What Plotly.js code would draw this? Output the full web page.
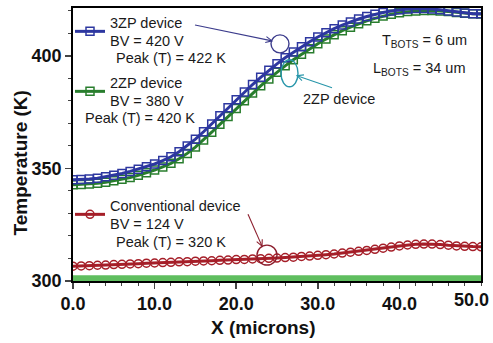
<!DOCTYPE html>
<html>
<head>
<meta charset="utf-8">
<script src="https://cdn.plot.ly/plotly-3.0.1.min.js"></script>
<style>html,body{margin:0;padding:0;background:#fff}#chart{width:493px;height:343px}</style>
</head>
<body>
<div id="chart"></div>
<script>
// Position along device (microns)
const xMicrons = [0,1,2,3,4,5,6,7,8,9,10,11,12,13,14,15,16,17,18,19,20,21,22,23,24,25,26,27,28,29,30,31,32,33,34,35,36,37,38,39,40,41,42,43,44,45,46,47,48,49,50];
// Temperature (K) of each device
const temp3ZP = [345.0,345.1,345.3,345.7,346.3,347.0,347.8,348.7,349.7,350.8,352.0,353.5,355.2,357.4,360.0,363.0,366.3,369.8,373.4,377.0,380.5,384.0,387.3,390.5,393.6,396.5,399.2,401.7,404.1,406.3,408.4,410.3,412.1,413.7,415.1,416.4,417.5,418.5,419.3,420.0,420.5,420.9,421.1,421.1,420.9,420.5,420.0,419.5,419.1,418.8,418.7];
const temp2ZP = [342.8,342.9,343.1,343.4,343.9,344.5,345.2,346.0,347.0,348.1,349.3,350.7,352.3,354.3,356.7,359.5,362.7,366.1,369.6,373.1,376.6,380.1,383.5,386.7,389.8,392.8,395.6,398.3,400.8,403.2,405.4,407.5,409.4,411.2,412.8,414.3,415.6,416.7,417.7,418.5,419.2,419.7,420.0,420.2,420.2,420.0,419.7,419.3,419.0,418.8,418.6];
const tempConv = [306.6,306.7,306.8,307.0,307.1,307.3,307.4,307.6,307.7,307.9,308.0,308.2,308.3,308.5,308.6,308.8,308.9,309.0,309.2,309.3,309.5,309.6,309.8,309.9,310.1,310.2,310.4,310.6,310.9,311.1,311.4,311.7,312.0,312.4,312.8,313.2,313.6,314.1,314.6,315.1,315.6,316.0,316.3,316.4,316.4,316.2,315.9,315.6,315.4,315.3,315.2];
const tempBase = xMicrons.map(() => 301.2);

const xTickVals = [0,10,20,30,40];
const xTickText = ['0.0','10.0','20.0','30.0','40.0'];
const lastXTickText = '50.0';
const yTickVals = [300,350,400];
const yTickText = ['300','350','400'];

const blue = 'rgb(45,55,160)';
const green = 'rgb(40,125,45)';
const red = 'rgb(165,30,40)';
const F = 'Arial, "Liberation Sans", sans-serif';
const FS = 14.5;

// plot-area geometry (pixels) for decorations
const M = {l: 73, r: 12, t: 7, b: 62};
const PW = 493 - M.l - M.r, PH = 343 - M.t - M.b;
const px = x => (x - M.l) / PW;
const py = y => (343 - M.b - y) / PH;

const traces = [
  {x: xMicrons, y: tempBase, mode: 'lines', line: {color: 'rgb(95,190,95)', width: 6}, showlegend: false, hoverinfo: 'skip'},
  {x: xMicrons, y: tempConv, name: 'Conventional device<br>BV = 124 V', legend: 'legend3', mode: 'lines+markers',
   line: {color: red, width: 3}, marker: {symbol: 'circle-open', size: 8, color: red, line: {width: 1.5}}},
  {x: xMicrons, y: temp2ZP, name: '2ZP device<br>BV = 380 V', legend: 'legend2', mode: 'lines+markers',
   line: {color: green, width: 3}, marker: {symbol: 'square-open', size: 8, color: green, line: {width: 1.5}}},
  {x: xMicrons, y: temp3ZP, name: '3ZP device<br>BV = 420 V', legend: 'legend', mode: 'lines+markers',
   line: {color: blue, width: 3}, marker: {symbol: 'square-open', size: 8, color: blue, line: {width: 1.5}}}
];

const legBase = {xanchor: 'left', yanchor: 'middle', valign: 'middle', bgcolor: 'rgba(0,0,0,0)', borderwidth: 0,
  font: {family: F, size: FS, color: '#1a1a1a'}, itemwidth: 30, tracegroupgap: 0};

const txt = (x, y, text, xanchor, extra) => Object.assign({xref: 'paper', yref: 'paper', x: x, y: y, text: text, showarrow: false,
  xanchor: xanchor || 'left', yanchor: 'middle', font: {family: F, size: FS, color: '#1a1a1a'}}, extra || {});

const axisFont = {family: F, size: 18, color: '#111', weight: 'bold'};
const titleFont = {family: F, size: 19, color: '#111', weight: 'bold'};

const annotations = [
  txt(px(114), py(57), 'Peak (T) = 422 K'),
  txt(px(83), py(117), 'Peak (T) = 420 K'),
  txt(px(114), py(242), 'Peak (T) = 320 K'),
  txt(px(469), py(40), 'T<sub>BOTS</sub> = 6 um', 'right'),
  txt(px(467), py(68), 'L<sub>BOTS</sub> = 34 um', 'right'),
  txt(px(301), py(98), '2ZP device'),
  txt(px(263), py(328), 'X (microns)', 'center', {font: titleFont}),
  txt(px(20), py(162), 'Temperature (K)', 'center', {font: titleFont, textangle: -90}),
  txt(px(471), py(300), lastXTickText, 'center', {font: axisFont})
];

function arrow(x0, y0, x1, y1, color) {
  const a = Math.atan2(y1 - y0, x1 - x0), L = 7, w = 0.45;
  const p1 = [x1 - L * Math.cos(a - w), y1 - L * Math.sin(a - w)];
  const p2 = [x1 - L * Math.cos(a + w), y1 - L * Math.sin(a + w)];
  return [
    {type: 'line', xref: 'paper', yref: 'paper', x0: px(x0), y0: py(y0), x1: px(x1), y1: py(y1), line: {color: color, width: 1.1}},
    {type: 'path', xref: 'paper', yref: 'paper',
     path: `M ${px(p1[0])} ${py(p1[1])} L ${px(x1)} ${py(y1)} L ${px(p2[0])} ${py(p2[1])}`,
     line: {color: color, width: 1.1}}
  ];
}
function ring(xa, xb, ya, yb, color) {
  return {type: 'circle', xref: 'paper', yref: 'paper', x0: px(xa), x1: px(xb), y0: py(yb), y1: py(ya), line: {color: color, width: 1.4}};
}
const c3 = 'rgb(60,60,140)', c2 = 'rgb(40,150,170)', c1 = 'rgb(140,30,45)';
const shapes = [].concat(
  arrow(195, 24, 272, 40, c3), [ring(271, 289, 34, 52, c3)],
  arrow(332, 87, 297, 75, c2), [ring(281, 298, 59, 86, c2)],
  arrow(248, 214, 262, 246, c1), [ring(257, 277, 245, 265, c1)]
);

const layout = {
  width: 493, height: 343,
  margin: M,
  paper_bgcolor: '#fff', plot_bgcolor: '#fff',
  showlegend: true,
  legend: Object.assign({}, legBase, {x: px(70), y: py(31.5)}),
  legend2: Object.assign({}, legBase, {x: px(70), y: py(91.5)}),
  legend3: Object.assign({}, legBase, {x: px(70), y: py(214.5)}),
  xaxis: {range: [0, 50], tickvals: xTickVals, ticktext: xTickText, ticks: 'outside', ticklen: 6, tickwidth: 1.5,
    minor: {dtick: 2, ticks: 'outside', ticklen: 3, tickwidth: 1},
    showline: true, mirror: true, linecolor: '#000', linewidth: 1.8, showgrid: false, zeroline: false,
    tickfont: axisFont},
  yaxis: {range: [300, 421.3], tickvals: yTickVals, ticktext: yTickText, ticks: 'outside', ticklen: 6, tickwidth: 1.5,
    minor: {dtick: 10, ticks: 'outside', ticklen: 3, tickwidth: 1},
    showline: true, mirror: true, linecolor: '#000', linewidth: 1.8, showgrid: false, zeroline: false,
    tickfont: axisFont},
  annotations: annotations,
  shapes: shapes
};

Plotly.newPlot('chart', traces, layout, {staticPlot: true, displayModeBar: false});
</script>
</body>
</html>
